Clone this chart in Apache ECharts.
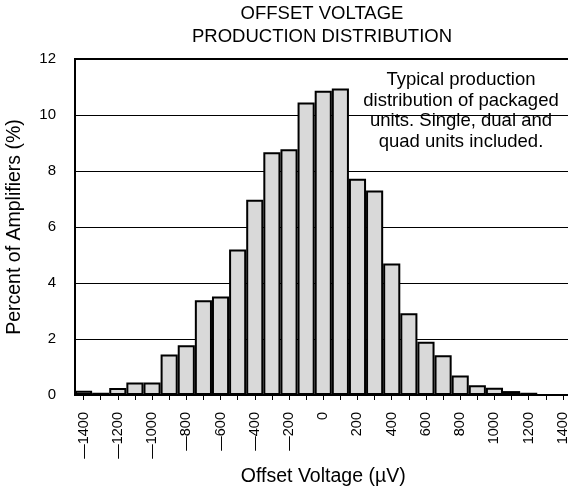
<!DOCTYPE html>
<html>
<head>
<meta charset="utf-8">
<script src="https://cdn.jsdelivr.net/npm/echarts@6/dist/echarts.min.js"></script>
<style>
html,body{margin:0;padding:0;background:#fff;overflow:hidden;width:568px;height:491px;}
#chart{width:580px;height:491px;}
</style>
</head>
<body>
<div id="chart"></div>
<script>
const categories = [-1400,-1300,-1200,-1100,-1000,-900,-800,-700,-600,-500,-400,-300,-200,-100,0,100,200,300,400,500,600,700,800,900,1000,1100,1200,1300,1400];
const percentValues = [0.15,0.08,0.25,0.45,0.45,1.45,1.78,3.38,3.52,5.2,6.97,8.67,8.78,10.45,10.87,10.95,7.72,7.3,4.7,2.92,1.9,1.42,0.7,0.35,0.26,0.14,0.08,0,0];
const yTicks = {min:0, max:12, interval:2};
const titleLines = ['OFFSET VOLTAGE','PRODUCTION DISTRIBUTION'];
const noteLines = ['Typical production','distribution of packaged','units. Single, dual and','quad units included.'];
const xName = 'Offset Voltage (µV)';
const yName = 'Percent of Amplifiers (%)';

const FONT = '"Liberation Sans", Arial, sans-serif';
const chart = echarts.init(document.getElementById('chart'), null, {renderer:'canvas'});
const fmt = v => { const n = Number(v); return n < 0 ? '\u2014' + Math.abs(n) : String(n); };

chart.setOption({
  animation:false,
  backgroundColor:'#fff',
  textStyle:{fontFamily:FONT},
  grid:{left:75, top:59, width:496.5, height:336, show:true, borderColor:'#000', borderWidth:2, backgroundColor:'transparent', outerBoundsMode:'none'},
  xAxis:{
    type:'category',
    data:categories.map(String),
    boundaryGap:true,
    name:xName,
    nameLocation:'middle',
    nameGap:70,
    nameTextStyle:{fontSize:19.5, color:'#000', fontFamily:FONT},
    axisLine:{show:true, lineStyle:{color:'#000', width:2}},
    axisTick:{show:true, alignWithLabel:true, interval:0, length:5, lineStyle:{color:'#000', width:1}},
    axisLabel:{interval:1, rotate:90, margin:17, fontSize:14.5, color:'#000', fontFamily:FONT, formatter:fmt, hideOverlap:false},
    splitLine:{show:false}
  },
  yAxis:{
    type:'value',
    min:yTicks.min, max:yTicks.max, interval:yTicks.interval,
    name:yName,
    nameLocation:'middle',
    nameGap:50,
    nameTextStyle:{fontSize:19.5, color:'#000', fontFamily:FONT},
    axisLine:{show:true, lineStyle:{color:'#000', width:2}},
    axisTick:{show:false},
    axisLabel:{fontSize:15, color:'#000', margin:19, fontFamily:FONT},
    splitLine:{show:true, lineStyle:{color:'#000', width:1}}
  },
  series:[{
    type:'bar',
    data:percentValues,
    barWidth:'100%',
    barGap:'-100%',
    itemStyle:{color:'#d9d9d9', borderColor:'#000', borderWidth:2},
    z:3
  }],
  graphic:[
    {type:'text', x:322, y:2, z:10, style:{text:titleLines.join('\n'), fontSize:18.5, lineHeight:23, fill:'#000', font:'18.5px '+FONT, textAlign:'center', textVerticalAlign:'top'}},
    {type:'group', x:359, y:66, z:10, children:[
      {type:'rect', shape:{x:0, y:0, width:204, height:88}, style:{fill:'#fff'}},
      {type:'text', x:102, y:3.7, style:{text:noteLines.join('\n'), fontSize:18.5, lineHeight:20.6, fill:'#000', font:'18.5px '+FONT, textAlign:'center', textVerticalAlign:'top'}}
    ]}
  ]
});
</script>
</body>
</html>
